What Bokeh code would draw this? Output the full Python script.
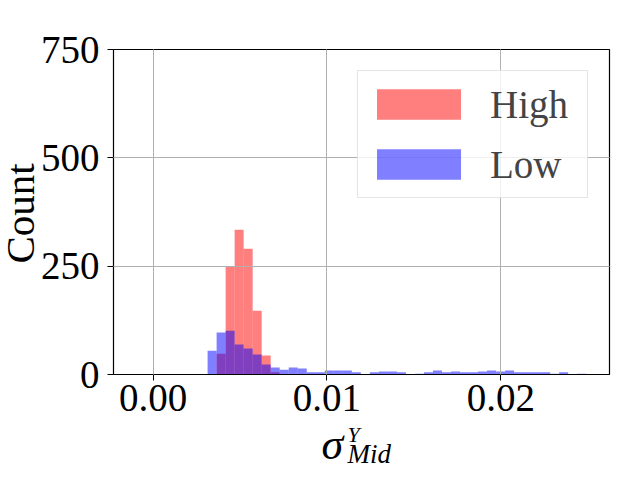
from math import pi
from bokeh.plotting import figure
from bokeh.layouts import row, column
from bokeh.models import (ColumnDataSource, Range1d, FixedTicker,
                          Legend, LegendItem)
from bokeh.core.properties import value
from bokeh.embed import file_html
from bokeh.resources import INLINE

# ---- data ----
bin_edges = [0.003132, 0.003651, 0.004169, 0.004688, 0.005206, 0.005725,
             0.006243, 0.006762, 0.007280, 0.007799, 0.008317, 0.008836,
             0.009354, 0.009873, 0.010391, 0.010910, 0.011428, 0.011947,
             0.012465, 0.012984, 0.013502, 0.014021, 0.014539, 0.015058,
             0.015576, 0.016095, 0.016613, 0.017132, 0.017650, 0.018169,
             0.018687, 0.019206, 0.019724, 0.020243, 0.020761, 0.021280,
             0.021798, 0.022317, 0.022835, 0.023354, 0.023872, 0.024391,
             0.024909]
high_counts = [0, 48, 248, 334, 290, 147, 44, 5, 0, 0, 0, 0, 0, 0, 0, 0,
               0, 0, 0, 0, 0, 0, 0, 0, 0, 0, 0, 0, 0, 0, 0, 0, 0, 0, 0, 0,
               0, 0, 0, 0, 0, 0]
low_counts = [55, 97, 101, 69, 60, 46, 23, 16, 11, 16, 14, 5, 5, 9, 9, 9,
              5, 0, 5, 7, 7, 5, 0, 2, 5, 9, 5, 7, 5, 5, 7, 9, 7, 9, 5, 5,
              5, 5, 2, 5, 0, 2]
series_names = ["High", "Low"]
x_ticks = [0.0, 0.01, 0.02]
x_tick_labels = ["0.00", "0.01", "0.02"]
y_ticks = [0, 250, 500, 750]
x_label_parts = ["σ", "Y", "Mid"]
y_label = "Count"

FONT = "Liberation Serif"


def bare(fig):
    fig.grid.visible = False
    fig.outline_line_color = None
    fig.background_fill_color = None
    fig.border_fill_color = "white"


# ---------------- y-axis title panel (page x 0..36) ----------------
ylab = figure(width=36, height=426, x_range=Range1d(0, 36),
              y_range=Range1d(374, 49), output_backend="svg",
              toolbar_location=None, x_axis_location=None,
              y_axis_location=None, min_border_left=0, min_border_right=0,
              min_border_top=49, min_border_bottom=52)
bare(ylab)
ylab.text(x=[19], y=[213], text=[y_label], angle=pi / 2,
          text_font=value(FONT), text_font_size=value("41px"),
          text_align="center", text_baseline="middle", text_color="black")

# ---------------- main histogram ----------------
p = figure(width=588, height=426,
           x_range=Range1d(-0.00228, 0.02625), y_range=Range1d(0, 750),
           output_backend="svg", toolbar_location=None,
           min_border_left=77, min_border_right=15,
           min_border_top=49, min_border_bottom=52)
p.background_fill_color = "white"
p.border_fill_color = "white"
p.outline_line_color = "black"
p.outline_line_width = 1.2

src_high = ColumnDataSource(dict(left=bin_edges[:-1], right=bin_edges[1:],
                                 top=high_counts))
src_low = ColumnDataSource(dict(left=bin_edges[:-1], right=bin_edges[1:],
                                top=low_counts))
r_high = p.quad(left="left", right="right", top="top", bottom=0,
                source=src_high, fill_color="red", fill_alpha=0.5,
                line_color=None)
r_low = p.quad(left="left", right="right", top="top", bottom=0,
               source=src_low, fill_color="blue", fill_alpha=0.5,
               line_color=None)

p.xaxis.ticker = FixedTicker(ticks=x_ticks)
p.yaxis.ticker = FixedTicker(ticks=y_ticks)
p.xaxis.major_label_overrides = {t: l for t, l in zip(x_ticks, x_tick_labels)}
for ax in (p.xaxis, p.yaxis):
    ax.major_tick_out = 6
    ax.major_tick_in = 0
    ax.minor_tick_out = 0
    ax.minor_tick_in = 0
    ax.axis_line_color = "black"
    ax.major_tick_line_color = "black"
    ax.major_label_text_font = FONT
    ax.major_label_text_font_size = "39px"
    ax.major_label_text_color = "black"
p.xaxis.major_label_standoff = 4
p.yaxis.major_label_standoff = 8

p.xgrid.ticker = FixedTicker(ticks=x_ticks)
p.ygrid.ticker = FixedTicker(ticks=y_ticks)
for g in (p.xgrid, p.ygrid):
    g.grid_line_color = "#b0b0b0"
    g.grid_line_width = 1
    g.level = "guide"

legend = Legend(items=[LegendItem(label=series_names[0], renderers=[r_high]),
                       LegendItem(label=series_names[1], renderers=[r_low])],
                location="top_right")
legend.label_text_font = FONT
legend.label_text_font_size = "39px"
legend.glyph_width = 105
legend.glyph_height = 38
legend.label_standoff = 19
legend.label_width = 89
legend.label_height = 50
legend.padding = 8
legend.spacing = 10
legend.margin = 21
legend.border_line_color = "#cccccc"
legend.border_line_width = 1
legend.background_fill_alpha = 0.8
p.add_layout(legend)

# ---------------- x-axis title panel (page y 426..464) ----------------
xlab = figure(width=624, height=38, x_range=Range1d(113, 609),
              y_range=Range1d(464, 426), output_backend="svg",
              toolbar_location=None, x_axis_location=None,
              y_axis_location=None, min_border_left=113,
              min_border_right=15, min_border_top=0, min_border_bottom=0)
bare(xlab)
xlab.text(x=[321], y=[443.5], text=[x_label_parts[0]],
          text_font=value(FONT), text_font_style="italic",
          text_font_size=value("44px"), text_align="left",
          text_baseline="middle", text_color="black")
xlab.text(x=[347], y=[434], text=[x_label_parts[1]],
          text_font=value(FONT), text_font_style="italic",
          text_font_size=value("22px"), text_align="left",
          text_baseline="middle", text_color="black")
xlab.text(x=[347], y=[453], text=[x_label_parts[2]],
          text_font=value(FONT), text_font_style="italic",
          text_font_size=value("27px"), text_align="left",
          text_baseline="middle", text_color="black")

layout = column(row(ylab, p), xlab)
open("out.html", "w").write(file_html(layout, INLINE))
